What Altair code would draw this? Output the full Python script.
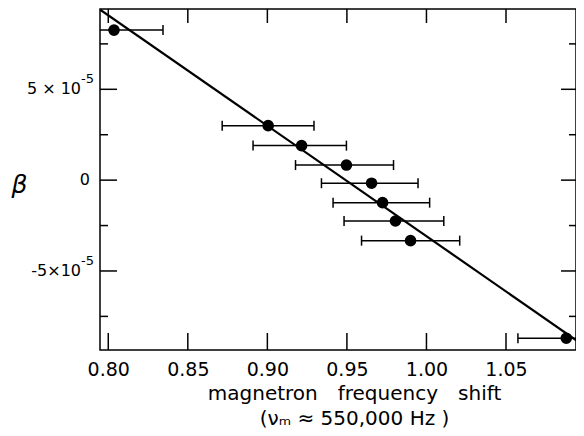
import altair as alt
import pandas as pd

# measured data
shift = [0.8036, 0.9005, 0.9215, 0.9497, 0.9655, 0.9724, 0.9805, 0.9900, 1.0879]
beta = [8.26e-5, 3.00e-5, 1.90e-5, 0.83e-5, -0.17e-5, -1.24e-5, -2.25e-5, -3.33e-5, -8.70e-5]
shift_lo = [0.7728, 0.8716, 0.8910, 0.9177, 0.9340, 0.9413, 0.9482, 0.9592, 1.0575]
shift_hi = [0.8344, 0.9293, 0.9497, 0.9793, 0.9947, 1.0020, 1.0109, 1.0209, 1.1180]

fit_x = [0.7948, 1.0984]
fit_beta = [9.39e-5, -9.07e-5]

x_ticks = [0.80, 0.85, 0.90, 0.95, 1.00, 1.05]
y_major = [-5e-5, 0.0, 5e-5]
y_minor = [-7.5e-5, -2.5e-5, 2.5e-5, 7.5e-5]
y_label_base = ["-5×10", "0", "5 × 10"]
y_label_sup = ["-5", "", "-5"]

x_domain = [0.7948, 1.0940]
y_domain = [-9.35e-5, 9.42e-5]

W, H = 476, 341
FONT = "DejaVu Sans"

pts = pd.DataFrame({"x": shift, "y": beta, "lo": shift_lo, "hi": shift_hi})
fit = pd.DataFrame({"x": fit_x, "y": fit_beta})
xt = pd.DataFrame({"x": x_ticks})
ymaj = pd.DataFrame({"y": y_major, "base": y_label_base, "sup": y_label_sup})
ymin = pd.DataFrame({"y": y_minor})

xs = alt.Scale(domain=x_domain, nice=False, zero=False)
ys = alt.Scale(domain=y_domain, nice=False, zero=False)

XA = alt.Axis(values=x_ticks, format=".2f", ticks=False, domain=False, grid=False,
              labelFont=FONT, labelFontSize=19, labelColor="black", labelPadding=10,
              title=["magnetron\u2003frequency\u2003shift", "(\u03bd\u2098 \u2248 550,000 Hz )"],
              titleFont=FONT, titleFontSize=20, titleFontWeight="normal",
              titleColor="black", titlePadding=4, titleLineHeight=25, titleX=254)
YA = alt.Axis(values=y_major, labels=False, ticks=False, domain=False, grid=False,
              title="β", titleFont=FONT, titleFontSize=25, titleFontStyle="italic",
              titleFontWeight="normal", titleColor="black", titleAngle=0,
              titleAlign="center", titleBaseline="alphabetic", titleX=-81, titleY=183)

base_pts = alt.Chart(pts)

points = base_pts.mark_point(filled=True, color="black", opacity=1, size=135).encode(
    x=alt.X("x:Q", scale=xs, axis=XA),
    y=alt.Y("y:Q", scale=ys, axis=YA),
)

bars = base_pts.mark_rule(color="black", strokeWidth=1.5, clip=True).encode(
    x=alt.X("lo:Q", scale=xs, axis=XA), x2="hi:Q",
    y=alt.Y("y:Q", scale=ys, axis=YA),
)
cap_lo = base_pts.mark_tick(orient="vertical", color="black", thickness=1.5, size=10, clip=True, opacity=1).encode(
    x=alt.X("lo:Q", scale=xs, axis=XA), y=alt.Y("y:Q", scale=ys, axis=YA))
cap_hi = base_pts.mark_tick(orient="vertical", color="black", thickness=1.5, size=10, clip=True, opacity=1).encode(
    x=alt.X("hi:Q", scale=xs, axis=XA), y=alt.Y("y:Q", scale=ys, axis=YA))

line = alt.Chart(fit).mark_line(color="black", strokeWidth=2.2, clip=True).encode(
    x=alt.X("x:Q", scale=xs, axis=XA), y=alt.Y("y:Q", scale=ys, axis=YA))

tick_style = dict(color="black", strokeWidth=1.5)
xt_bot = alt.Chart(xt).mark_rule(**tick_style).encode(
    x=alt.X("x:Q", scale=xs, axis=XA), y=alt.value(H), y2=alt.value(H - 17))
xt_top = alt.Chart(xt).mark_rule(**tick_style).encode(
    x=alt.X("x:Q", scale=xs, axis=XA), y=alt.value(0), y2=alt.value(14))
yl_maj = alt.Chart(ymaj).mark_rule(**tick_style).encode(
    y=alt.Y("y:Q", scale=ys, axis=YA), x=alt.value(0), x2=alt.value(17))
yl_min = alt.Chart(ymin).mark_rule(**tick_style).encode(
    y=alt.Y("y:Q", scale=ys, axis=YA), x=alt.value(0), x2=alt.value(8))
yr_maj = alt.Chart(ymaj).mark_rule(**tick_style).encode(
    y=alt.Y("y:Q", scale=ys, axis=YA), x=alt.value(W - 15), x2=alt.value(W))
yr_min = alt.Chart(ymin).mark_rule(**tick_style).encode(
    y=alt.Y("y:Q", scale=ys, axis=YA), x=alt.value(W - 7), x2=alt.value(W))

ylab_base = alt.Chart(ymaj).transform_filter("datum.sup != ''").mark_text(
    font=FONT, fontSize=16, color="black", align="right", baseline="middle", clip=False
).encode(y=alt.Y("y:Q", scale=ys, axis=YA), x=alt.value(-19), text="base:N")
ylab_zero = alt.Chart(ymaj).transform_filter("datum.sup == ''").mark_text(
    font=FONT, fontSize=16, color="black", align="right", baseline="middle", clip=False
).encode(y=alt.Y("y:Q", scale=ys, axis=YA), x=alt.value(-10), text="base:N")
ylab_sup = alt.Chart(ymaj).transform_filter("datum.sup != ''").mark_text(
    font=FONT, fontSize=13, color="black", align="left", baseline="middle", dy=-10, clip=False
).encode(y=alt.Y("y:Q", scale=ys, axis=YA), x=alt.value(-19), text="sup:N")

chart = alt.layer(
    line, bars, cap_lo, cap_hi, xt_bot, xt_top, yl_maj, yl_min, yr_maj, yr_min, points,
    ylab_base, ylab_zero, ylab_sup
).properties(
    width=W, height=H,
    background="white",
    autosize=alt.AutoSizeParams(type="none"),
    padding={"left": 92, "top": 1, "right": 0, "bottom": 78},
).configure_view(
    stroke="black", strokeWidth=1.5
)

chart.save("out.html", embed_options={"renderer": "svg", "actions": False})
